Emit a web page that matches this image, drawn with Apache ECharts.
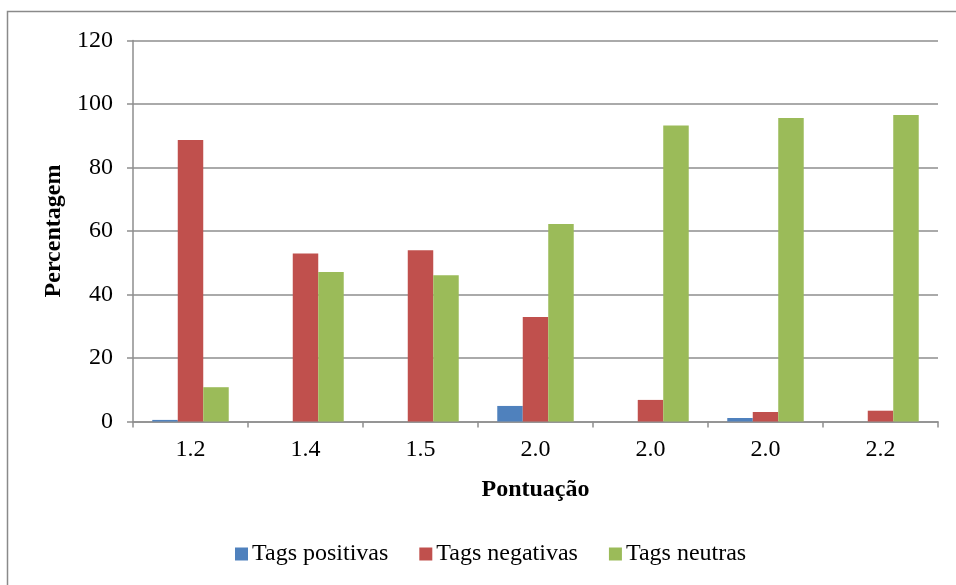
<!DOCTYPE html>
<html>
<head>
<meta charset="utf-8">
<script src="https://cdn.jsdelivr.net/npm/echarts@6/dist/echarts.min.js"></script>
<style>
  html, body { margin: 0; padding: 0; background: #fff; }
  #chart { width: 956px; height: 585px; }
</style>
</head>
<body>
<div id="chart"></div>
<script>
// Score categories on the x axis
const categories = ['1.2', '1.4', '1.5', '2.0', '2.0', '2.0', '2.2'];
// Percentage of tags per polarity
const tagsPositivas = [0.5, 0, 0, 4.9, 0, 1.1, 0];
const tagsNegativas = [88.7, 52.9, 53.9, 32.9, 6.8, 3.0, 3.4];
const tagsNeutras = [10.8, 47.1, 46.1, 62.2, 93.2, 95.6, 96.5];
const yTicks = [0, 20, 40, 60, 80, 100, 120];

const font = 'Liberation Serif, Times New Roman, serif';
const lineGrey = '#8e8e8e';

const chart = echarts.init(document.getElementById('chart'), null, { renderer: 'canvas' });

chart.setOption({
  backgroundColor: '#ffffff',
  animation: false,
  graphic: [{
    type: 'rect',
    shape: { x: 7.5, y: 11.5, width: 1200, height: 1200 },
    style: { fill: 'none', stroke: '#8a8a8a', lineWidth: 1.5 },
    silent: true,
    z: -1
  }],
  grid: { left: 133, right: 18, top: 40.5, bottom: 163.5, containLabel: false },
  legend: {
    left: 235,
    top: 542,
    padding: 0,
    itemWidth: 13,
    itemHeight: 13,
    itemGap: 31,
    icon: 'rect',
    textStyle: { fontFamily: font, fontSize: 24, color: '#000', padding: [0, 0, 0, -1] },
    data: ['Tags positivas', 'Tags negativas', 'Tags neutras']
  },
  xAxis: {
    type: 'category',
    data: categories,
    name: 'Pontuação',
    nameLocation: 'middle',
    nameGap: 56,
    nameTextStyle: { fontFamily: font, fontSize: 24, fontWeight: 'bold', color: '#000' },
    axisLine: { lineStyle: { color: lineGrey, width: 1.5 } },
    axisTick: { show: true, length: 6, inside: false, lineStyle: { color: lineGrey, width: 1.5 } },
    axisLabel: { fontFamily: font, fontSize: 24, color: '#000', margin: 16 }
  },
  yAxis: {
    type: 'value',
    min: yTicks[0],
    max: yTicks[yTicks.length - 1],
    interval: 20,
    name: 'Percentagem',
    nameLocation: 'middle',
    nameGap: 64,
    nameTextStyle: { fontFamily: font, fontSize: 24, fontWeight: 'bold', color: '#000' },
    axisLine: { show: true, lineStyle: { color: lineGrey, width: 1.5 } },
    axisTick: { show: true, length: 6, inside: false, lineStyle: { color: lineGrey, width: 1.5 } },
    axisLabel: { fontFamily: font, fontSize: 24, color: '#000', margin: 20 },
    splitLine: { show: true, lineStyle: { color: lineGrey, width: 1.5 } }
  },
  series: [
    {
      name: 'Tags positivas', type: 'bar', data: tagsPositivas,
      barGap: '0%', barCategoryGap: '33.5%',
      itemStyle: { color: '#4F81BD' }
    },
    {
      name: 'Tags negativas', type: 'bar', data: tagsNegativas,
      barGap: '0%', barCategoryGap: '33.5%',
      itemStyle: { color: '#C0504D' }
    },
    {
      name: 'Tags neutras', type: 'bar', data: tagsNeutras,
      barGap: '0%', barCategoryGap: '33.5%',
      itemStyle: { color: '#9BBB59' }
    }
  ]
});
</script>
</body>
</html>
